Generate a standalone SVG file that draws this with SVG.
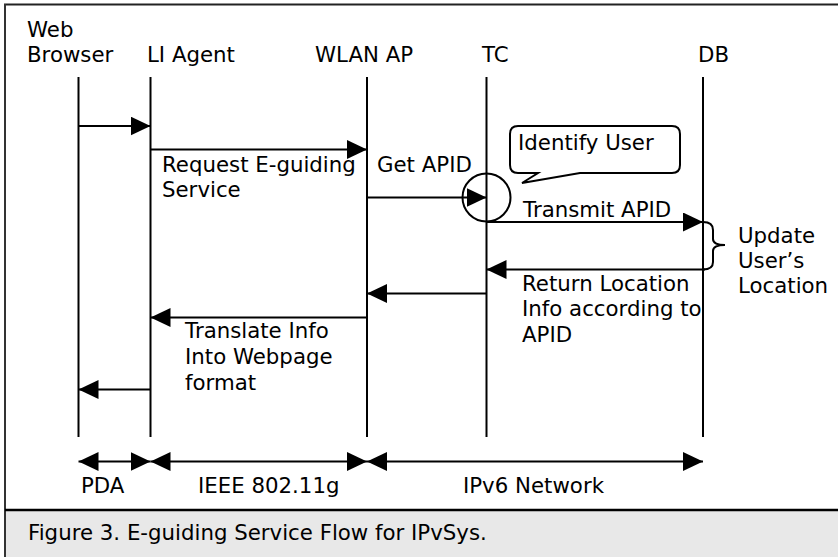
<svg xmlns="http://www.w3.org/2000/svg" width="838" height="557" viewBox="0 0 838 557">
<defs>
<style>
text{font-family:"DejaVu Sans","Verdana",sans-serif;font-size:21.3px;fill:#000}
.life{stroke:#000;stroke-width:2;fill:none}
.msg{stroke:#000;stroke-width:2;fill:none}
</style>
<marker id="ah" markerWidth="20" markerHeight="19" refX="20" refY="9.5" orient="auto-start-reverse" markerUnits="userSpaceOnUse">
<path d="M0,0 L20,9.5 L0,19 Z" fill="#000"/>
</marker>
</defs>
<rect x="0" y="0" width="838" height="557" fill="#fff"/>
<rect x="5" y="510" width="833" height="47" fill="#e8e8e8"/>
<line x1="4" y1="4.5" x2="838" y2="4.5" stroke="#222" stroke-width="2"/>
<line x1="5" y1="4" x2="5" y2="557" stroke="#333" stroke-width="2"/>
<line x1="5" y1="510" x2="838" y2="510" stroke="#000" stroke-width="2.5"/>

<g id="web-browser">
<text x="27" y="37">Web</text>
<text x="27" y="62">Browser</text>
<line class="life" x1="78.5" y1="77" x2="78.5" y2="437"/>
</g>
<g id="li-agent">
<text x="147" y="62">LI Agent</text>
<line class="life" x1="150.5" y1="77" x2="150.5" y2="437"/>
</g>
<g id="wlan-ap">
<text x="315" y="62">WLAN AP</text>
<line class="life" x1="367" y1="77" x2="367" y2="437"/>
</g>
<g id="tc">
<text x="482" y="62">TC</text>
<line class="life" x1="486.5" y1="77" x2="486.5" y2="437"/>
</g>
<g id="db">
<text x="698" y="62">DB</text>
<line class="life" x1="703" y1="77" x2="703" y2="437"/>
</g>

<g id="identify-user">
<circle cx="486.5" cy="197.5" r="24" fill="none" stroke="#000" stroke-width="2"/>
<path d="M518,126 H672 Q680,126 680,134 V165 Q680,173 672,173 H580 L522,183 L538,173 H518 Q510,173 510,165 V134 Q510,126 518,126 Z" fill="#fff" stroke="#000" stroke-width="2"/>
<text x="518" y="150">Identify User</text>
</g>

<g id="update-location">
<text x="738" y="243">Update</text>
<text x="738" y="268">User’s</text>
<text x="738" y="293">Location</text>
</g>

<g id="connectors">
<line class="msg" x1="78.5" y1="126" x2="150.5" y2="126" marker-end="url(#ah)"/>
<line class="msg" x1="150.5" y1="149.5" x2="367" y2="149.5" marker-end="url(#ah)"/>
<line class="msg" x1="367" y1="197.5" x2="486.5" y2="197.5" marker-end="url(#ah)"/>
<line class="msg" x1="486.5" y1="222" x2="703" y2="222" marker-end="url(#ah)"/>
<path class="msg" d="M703,222 Q713,222 713,230 V239 Q713,245 725,245 Q713,245 713,251 V262 Q713,269.5 703,269.5"/>
<line class="msg" x1="705" y1="269.5" x2="486.5" y2="269.5" marker-end="url(#ah)"/>
<line class="msg" x1="486.5" y1="293.5" x2="367" y2="293.5" marker-end="url(#ah)"/>
<line class="msg" x1="367" y1="317.5" x2="150.5" y2="317.5" marker-end="url(#ah)"/>
<line class="msg" x1="150.5" y1="389.5" x2="78.5" y2="389.5" marker-end="url(#ah)"/>
<line class="msg" x1="78.5" y1="461.5" x2="150.5" y2="461.5" marker-start="url(#ah)" marker-end="url(#ah)"/>
<line class="msg" x1="150.5" y1="461.5" x2="367" y2="461.5" marker-start="url(#ah)" marker-end="url(#ah)"/>
<line class="msg" x1="367" y1="461.5" x2="703" y2="461.5" marker-start="url(#ah)" marker-end="url(#ah)"/>
</g>

<g id="labels">
<text x="162" y="172">Request E-guiding</text>
<text x="162" y="197">Service</text>
<text x="377" y="172">Get APID</text>
<text x="523" y="217">Transmit APID</text>
<text x="522" y="291">Return Location</text>
<text x="522" y="316">Info according to</text>
<text x="522" y="342">APID</text>
<text x="185" y="338">Translate Info</text>
<text x="185" y="364">Into Webpage</text>
<text x="185" y="390">format</text>
<text x="81" y="493">PDA</text>
<text x="198" y="493">IEEE 802.11g</text>
<text x="463" y="493">IPv6 Network</text>
</g>
<text x="28" y="540">Figure 3. E-guiding Service Flow for IPvSys.</text>
</svg>
